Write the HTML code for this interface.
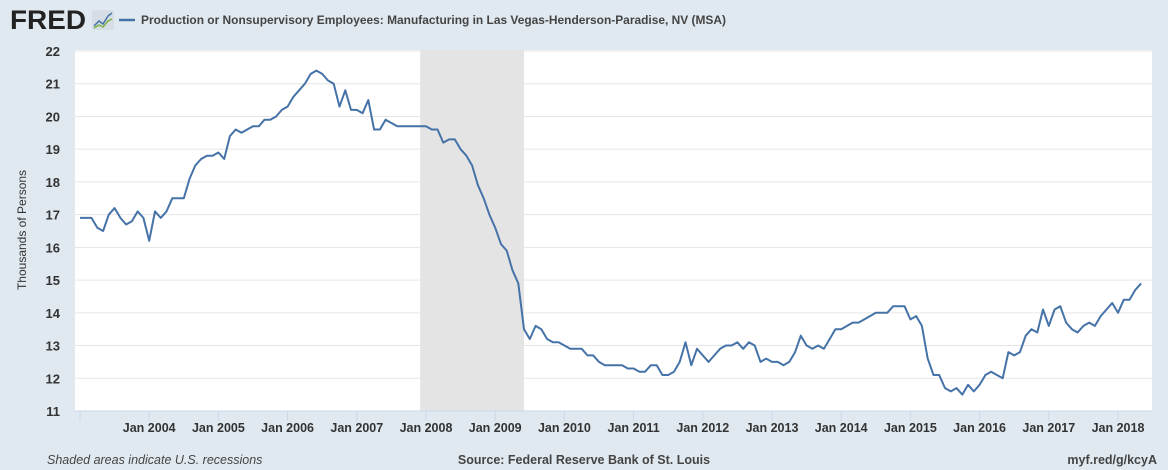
<!DOCTYPE html>
<html><head><meta charset="utf-8"><style>
body{margin:0;background:#e1e9f0;font-family:"Liberation Sans",Arial,sans-serif}
svg{display:block}
</style></head><body>
<svg width="1168" height="470" xmlns="http://www.w3.org/2000/svg">
<rect x="0" y="0" width="1168" height="470" fill="#e1e9f0"/>
<g>
<text x="10" y="29" font-size="27" font-weight="bold" fill="#222" textLength="76" lengthAdjust="spacingAndGlyphs">FRED</text>
<rect x="92" y="10" width="22" height="20" rx="2" fill="#d6dde4"/>
<polyline points="94,26 99,21 103,24 108,16 112,13" fill="none" stroke="#4572a7" stroke-width="1.5"/>
<polyline points="94,28 99,25 103,27 108,21 112,19" fill="none" stroke="#7cb342" stroke-width="1.5"/>
</g>
<line x1="119" y1="20" x2="135" y2="20" stroke="#4572a7" stroke-width="2.5"/>
<text x="141" y="24" font-size="12" font-weight="bold" fill="#444" textLength="585" lengthAdjust="spacingAndGlyphs">Production or Nonsupervisory Employees: Manufacturing in Las Vegas-Henderson-Paradise, NV (MSA)</text>
<rect x="75" y="50" width="1077" height="361" fill="#fff"/>
<g id="grid"></g><g id="rec"></g><g id="axes"></g><g id="series"></g>
<text transform="translate(26,230) rotate(-90)" text-anchor="middle" font-size="12" fill="#333">Thousands of Persons</text>
<text x="47" y="464" font-size="12.5" font-style="italic" fill="#444">Shaded areas indicate U.S. recessions</text>
<text x="584" y="464" text-anchor="middle" font-size="12.5" font-weight="bold" fill="#444">Source: Federal Reserve Bank of St. Louis</text>
<text x="1157" y="464" text-anchor="end" font-size="12.5" font-weight="bold" fill="#444">myf.red/g/kcyA</text>
</svg>
<script>
const startYear = 2003;
const values = [
16.9,16.9,16.9,16.6,16.5,17.0,17.2,16.9,16.7,16.8,17.1,16.9,
16.2,17.1,16.9,17.1,17.5,17.5,17.5,18.1,18.5,18.7,18.8,18.8,
18.9,18.7,19.4,19.6,19.5,19.6,19.7,19.7,19.9,19.9,20.0,20.2,
20.3,20.6,20.8,21.0,21.3,21.4,21.3,21.1,21.0,20.3,20.8,20.2,
20.2,20.1,20.5,19.6,19.6,19.9,19.8,19.7,19.7,19.7,19.7,19.7,
19.7,19.6,19.6,19.2,19.3,19.3,19.0,18.8,18.5,17.9,17.5,17.0,
16.6,16.1,15.9,15.3,14.9,13.5,13.2,13.6,13.5,13.2,13.1,13.1,
13.0,12.9,12.9,12.9,12.7,12.7,12.5,12.4,12.4,12.4,12.4,12.3,
12.3,12.2,12.2,12.4,12.4,12.1,12.1,12.2,12.5,13.1,12.4,12.9,
12.7,12.5,12.7,12.9,13.0,13.0,13.1,12.9,13.1,13.0,12.5,12.6,
12.5,12.5,12.4,12.5,12.8,13.3,13.0,12.9,13.0,12.9,13.2,13.5,
13.5,13.6,13.7,13.7,13.8,13.9,14.0,14.0,14.0,14.2,14.2,14.2,
13.8,13.9,13.6,12.6,12.1,12.1,11.7,11.6,11.7,11.5,11.8,11.6,
11.8,12.1,12.2,12.1,12.0,12.8,12.7,12.8,13.3,13.5,13.4,14.1,
13.6,14.1,14.2,13.7,13.5,13.4,13.6,13.7,13.6,13.9,14.1,14.3,
14.0,14.4,14.4,14.7,14.9];
const yTicks = [11,12,13,14,15,16,17,18,19,20,21,22];
const xTickYears = [2004,2005,2006,2007,2008,2009,2010,2011,2012,2013,2014,2015,2016,2017,2018];
const recessionStart = [2007+11/12];
const recessionEnd = [2009+5/12];
const NS="http://www.w3.org/2000/svg";
function xs(t){return 80+(t-startYear)*69.2;}
function ys(v){return 411-(v-11)*(360/11);}
function mk(tag,attrs,parent){const e=document.createElementNS(NS,tag);for(const k in attrs)e.setAttribute(k,attrs[k]);document.getElementById(parent).appendChild(e);return e;}
yTicks.forEach(v=>{
  if(v>11){const l=mk('line',{x1:75,x2:1152,y1:ys(v),y2:ys(v),stroke:'#e6e6e6','stroke-width':1},'grid');
  
  }
  const t=mk('text',{x:60,y:ys(v)+5,'text-anchor':'end','font-size':13,'font-weight':'bold',fill:'#333'},'axes');
  t.textContent=v;
  
  
});
recessionStart.forEach((s,i)=>{
  const r=mk('rect',{x:xs(s),y:50,width:xs(recessionEnd[i])-xs(s),height:361,fill:'#e4e4e4'},'rec');
  
  
});
const ax=mk('line',{x1:75,x2:1152,y1:411,y2:411,stroke:'#ccd6eb','stroke-width':1},'axes');


const t0=mk('line',{x1:xs(startYear),x2:xs(startYear),y1:411,y2:421,stroke:'#ccd6eb'},'axes');


xTickYears.forEach(yr=>{
  const tk=mk('line',{x1:xs(yr),x2:xs(yr),y1:411,y2:421,stroke:'#ccd6eb'},'axes');
  
  
  const t=mk('text',{x:xs(yr),y:432,'text-anchor':'middle','font-size':12.5,'font-weight':'bold',fill:'#333'},'axes');
  t.textContent='Jan '+yr;
  
  
});
const pts=values.map((v,i)=>xs(startYear+i/12).toFixed(1)+','+ys(v).toFixed(1)).join(' ');
const pl=mk('polyline',{points:pts,fill:'none',stroke:'#4572a7','stroke-width':2,'stroke-linejoin':'round'},'series');


</script>
</body></html>
